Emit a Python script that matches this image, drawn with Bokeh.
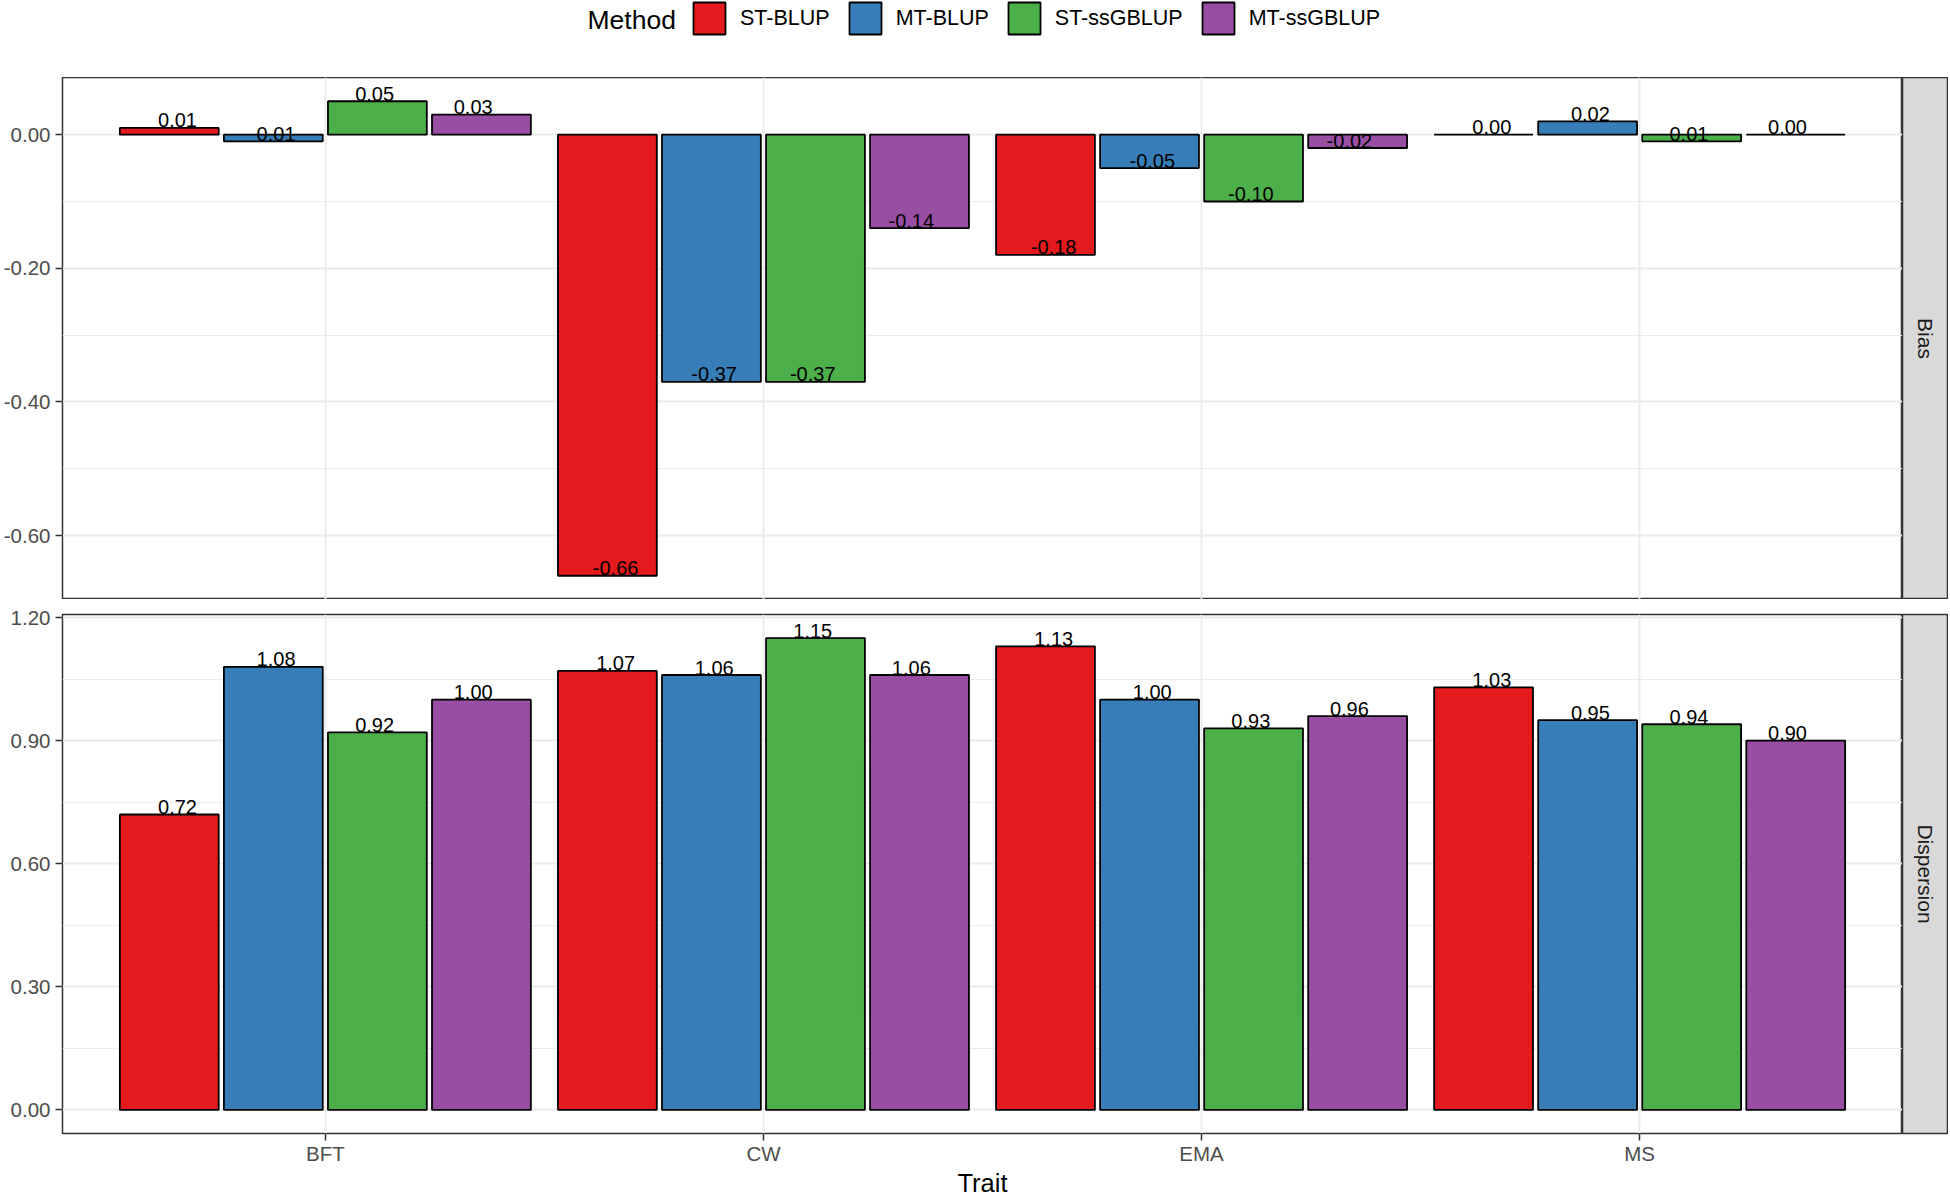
import numpy as np
from bokeh.plotting import figure
from bokeh.models import (ColumnDataSource, FactorRange, Range1d, FixedTicker,
                          PrintfTickFormatter, Legend, LegendItem, Label)
from bokeh.layouts import column, row
from bokeh.transform import dodge
from bokeh.core.properties import value
from bokeh.embed import file_html
from bokeh.resources import INLINE

# ---------------- data ----------------
traits = ["BFT", "CW", "EMA", "MS"]
methods = ["ST-BLUP", "MT-BLUP", "ST-ssGBLUP", "MT-ssGBLUP"]
colors = ["#E41A1C", "#377EB8", "#4DAF4A", "#984EA3"]

bias_st_blup = [0.01, -0.66, -0.18, 0.00]
bias_mt_blup = [-0.01, -0.37, -0.05, 0.02]
bias_st_ssgblup = [0.05, -0.37, -0.10, -0.01]
bias_mt_ssgblup = [0.03, -0.14, -0.02, 0.00]

bias_labels_st_blup = ["0.01", "-0.66", "-0.18", "0.00"]
bias_labels_mt_blup = ["0.01", "-0.37", "-0.05", "0.02"]
bias_labels_st_ssgblup = ["0.05", "-0.37", "-0.10", "0.01"]
bias_labels_mt_ssgblup = ["0.03", "-0.14", "-0.02", "0.00"]

disp_st_blup = [0.72, 1.07, 1.13, 1.03]
disp_mt_blup = [1.08, 1.06, 1.00, 0.95]
disp_st_ssgblup = [0.92, 1.15, 0.93, 0.94]
disp_mt_ssgblup = [1.00, 1.06, 0.96, 0.90]

disp_labels_st_blup = ["0.72", "1.07", "1.13", "1.03"]
disp_labels_mt_blup = ["1.08", "1.06", "1.00", "0.95"]
disp_labels_st_ssgblup = ["0.92", "1.15", "0.93", "0.94"]
disp_labels_mt_ssgblup = ["1.00", "1.06", "0.96", "0.90"]

bias_ticks = [-0.6, -0.4, -0.2, 0.0]
bias_minor_ticks = [-0.5, -0.3, -0.1]
disp_ticks = [0.0, 0.3, 0.6, 0.9, 1.2]
disp_minor_ticks = [0.15, 0.45, 0.75, 1.05]

panel_names = ["Bias", "Dispersion"]
legend_title = "Method"
x_title = "Trait"

# ---------------- styling ----------------
FONT = "Liberation Sans"
GRID = "#EBEBEB"
DARK = "#333333"
TICK_TXT = "#4D4D4D"
TOTAL_W = 1948
LEFT = 62
PANEL_W = 1902
STRIP_W = TOTAL_W - PANEL_W

slot = 0.95 / len(methods)
bar_width = slot * 0.95
bar_offsets = [(i - (len(methods) - 1) / 2) * slot for i in range(len(methods))]
text_offsets = [(i - (len(methods) - 1) / 2) * 0.225 for i in range(len(methods))]

x_range = FactorRange(factors=traits, range_padding=0.1, range_padding_units="absolute")


def make_panel(series, labels, ticks, minor, height, top_b, bottom_b, show_x):
    allv = np.concatenate([np.array(s) for s in series] + [np.array([0.0])])
    lo, hi = allv.min(), allv.max()
    pad = 0.05 * (hi - lo)
    p = figure(width=PANEL_W, height=height, x_range=x_range,
               y_range=Range1d(lo - pad, hi + pad),
               toolbar_location=None, output_backend="svg",
               min_border_left=LEFT, min_border_right=0,
               min_border_top=top_b, min_border_bottom=bottom_b)
    p.outline_line_color = DARK
    p.outline_line_width = 1.5
    p.background_fill_color = "white"
    p.border_fill_color = "white"

    p.yaxis.ticker = FixedTicker(ticks=ticks, minor_ticks=minor)
    p.yaxis.formatter = PrintfTickFormatter(format="%.2f")
    for ax in [p.xaxis[0], p.yaxis[0]]:
        ax.axis_line_color = None
        ax.major_tick_line_color = DARK
        ax.major_tick_line_width = 1.5
        ax.major_tick_out = 7
        ax.major_tick_in = 0
        ax.minor_tick_line_color = None
        ax.major_label_text_font = FONT
        ax.major_label_text_font_size = "20.5px"
        ax.major_label_text_color = TICK_TXT
    p.yaxis.major_label_standoff = 5
    p.xaxis.major_label_standoff = 1
    p.xaxis.visible = show_x

    p.ygrid.grid_line_color = GRID
    p.ygrid.grid_line_width = 1.8
    p.ygrid.minor_grid_line_color = GRID
    p.ygrid.minor_grid_line_width = 1.0
    p.xgrid.grid_line_color = GRID
    p.xgrid.grid_line_width = 1.8

    sources = []
    for i, (vals, labs) in enumerate(zip(series, labels)):
        src = ColumnDataSource(dict(trait=traits, val=vals, label=labs))
        sources.append(src)
        p.vbar(x=dodge("trait", bar_offsets[i], range=x_range), top="val", bottom=0,
               width=bar_width, source=src, fill_color=colors[i],
               line_color="black", line_width=1.8)
    for i, src in enumerate(sources):
        p.text(x=dodge("trait", text_offsets[i], range=x_range), y="val", text="label",
               source=src, text_align="center", text_baseline="middle", y_offset=-7.5,
               text_font=value(FONT), text_font_size="20px", text_color="black")
    return p, sources


def make_strip(text, height, top_b, bottom_b):
    s = figure(width=STRIP_W, height=height, x_range=Range1d(0, 1), y_range=Range1d(0, 1),
               x_axis_type=None, y_axis_type=None,
               toolbar_location=None, output_backend="svg",
               min_border_left=0, min_border_right=0,
               min_border_top=top_b, min_border_bottom=bottom_b)
    s.background_fill_color = "#D9D9D9"
    s.border_fill_color = "white"
    s.outline_line_color = DARK
    s.outline_line_width = 1.5
    s.add_layout(Label(x=0.5, y=0.5, text=text, angle=-np.pi / 2,
                       text_align="center", text_baseline="middle",
                       text_font=FONT, text_font_size="21px", text_color="#1A1A1A"))
    return s


HEADER_H = 77
FOOTER_H = 30
p1, bias_sources = make_panel(
    [bias_st_blup, bias_mt_blup, bias_st_ssgblup, bias_mt_ssgblup],
    [bias_labels_st_blup, bias_labels_mt_blup, bias_labels_st_ssgblup, bias_labels_mt_ssgblup],
    bias_ticks, bias_minor_ticks, 522, 0, 0, False)
p2, _ = make_panel(
    [disp_st_blup, disp_mt_blup, disp_st_ssgblup, disp_mt_ssgblup],
    [disp_labels_st_blup, disp_labels_mt_blup, disp_labels_st_ssgblup, disp_labels_mt_ssgblup],
    disp_ticks, disp_minor_ticks, 568, 15, 31, True)

s1 = make_strip(panel_names[0], 522, 0, 0)
s2 = make_strip(panel_names[1], 568, 15, 31)

# ---------------- header with legend ----------------
# legend handles: one undrawn (NaN-height) bar per method, styled like the panel bars
header = figure(width=TOTAL_W, height=HEADER_H, x_range=FactorRange(factors=methods),
                y_range=Range1d(0, 1),
                x_axis_type=None, y_axis_type=None, toolbar_location=None,
                output_backend="svg", min_border=0)
header.outline_line_color = None
header.background_fill_color = "white"
header.border_fill_color = "white"
handle_src = ColumnDataSource(dict(method=methods, top=[np.nan] * len(methods)))
legend_items = []
for i, m in enumerate(methods):
    r = header.vbar(x="method", top="top", bottom="top", width=bar_width, source=handle_src,
                    fill_color=colors[i], line_color="black", line_width=1.8)
    legend_items.append(LegendItem(label=m, renderers=[r]))
legend = Legend(items=legend_items, orientation="horizontal", location=(689, 39),
                glyph_width=40, glyph_height=40, label_standoff=11, spacing=15,
                padding=0, margin=0, border_line_color=None, background_fill_alpha=0,
                label_text_font=FONT, label_text_font_size="21.5px",
                label_text_color="black", label_text_baseline="middle")
header.add_layout(legend)
header.add_layout(Label(x=587, y=58, x_units="screen", y_units="screen", text=legend_title,
                        text_align="left", text_baseline="middle",
                        text_font=FONT, text_font_size="26.5px", text_color="black"))

# ---------------- footer with x title ----------------
footer = figure(width=TOTAL_W, height=FOOTER_H, x_range=Range1d(0, TOTAL_W),
                y_range=Range1d(0, FOOTER_H), x_axis_type=None, y_axis_type=None,
                toolbar_location=None, output_backend="svg", min_border=0)
footer.outline_line_color = None
footer.background_fill_color = "white"
footer.border_fill_color = "white"
footer.add_layout(Label(x=(LEFT + PANEL_W) / 2, y=15, text=x_title,
                        text_align="center", text_baseline="middle",
                        text_font=FONT, text_font_size="25.5px", text_color="black"))

layout = column(header,
                row(p1, s1, spacing=0),
                row(p2, s2, spacing=0),
                footer, spacing=0)

open("out.html", "w").write(file_html(layout, INLINE))
